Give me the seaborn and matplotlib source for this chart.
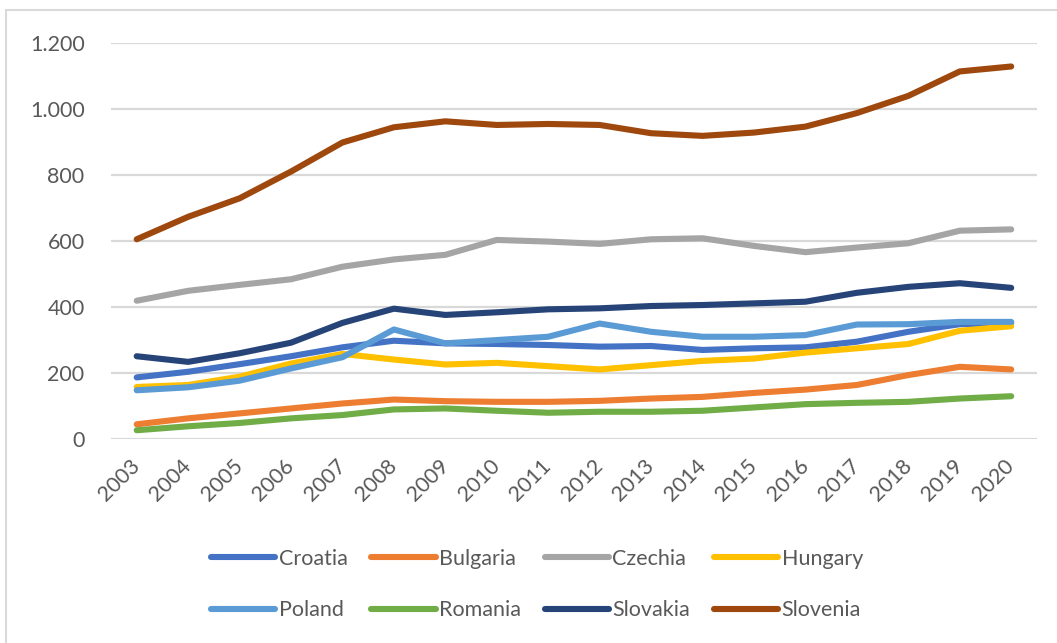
import matplotlib
matplotlib.use("Agg")
import matplotlib.pyplot as plt
import matplotlib.ticker as mticker
from matplotlib.lines import Line2D
import seaborn as sns
import pandas as pd

years = list(range(2003, 2021))

croatia  = [187, 204, 227, 251, 278, 298, 290, 288, 285, 280, 282, 270, 275, 278, 295, 325, 348, 352]
bulgaria = [45, 63, 78, 93, 108, 120, 115, 113, 113, 116, 123, 128, 140, 150, 164, 194, 219, 211]
czechia  = [419, 449, 467, 484, 522, 544, 558, 603, 598, 591, 605, 608, 585, 566, 580, 593, 631, 635]
hungary  = [158, 164, 189, 229, 258, 241, 226, 231, 221, 211, 224, 237, 244, 262, 275, 288, 328, 342]
poland   = [148, 157, 177, 214, 248, 332, 290, 300, 310, 350, 325, 310, 310, 315, 347, 348, 355, 355]
romania  = [27, 39, 49, 63, 73, 90, 93, 86, 80, 83, 83, 86, 96, 106, 110, 113, 123, 130]
slovakia = [251, 234, 260, 292, 352, 395, 376, 384, 393, 396, 403, 406, 411, 416, 443, 461, 472, 458]
slovenia = [605, 673, 729, 810, 898, 944, 962, 951, 954, 951, 926, 918, 928, 946, 987, 1039, 1113, 1128]

countries = ["Croatia", "Bulgaria", "Czechia", "Hungary", "Poland", "Romania", "Slovakia", "Slovenia"]
series = [croatia, bulgaria, czechia, hungary, poland, romania, slovakia, slovenia]
colors = ["#4472C4", "#ED7D31", "#A5A5A5", "#FFC000", "#5B9BD5", "#70AD47", "#264478", "#9E480E"]

rows = []
for name, vals in zip(countries, series):
    for i, (yr, v) in enumerate(zip(years, vals)):
        rows.append({"pos": i, "year": str(yr), "country": name, "value": v})
df = pd.DataFrame(rows)

sns.set_theme(style="white")
plt.rcParams["font.family"] = ["Lato", "DejaVu Sans"]

FS = 15.5
LW = 4.4

fig = plt.figure(figsize=(10.57, 6.43), dpi=100)
ax = fig.add_axes([0.105, 0.317, 0.876, 0.6166])

sns.lineplot(data=df, x="pos", y="value", hue="country", hue_order=countries,
             palette=dict(zip(countries, colors)), linewidth=LW, ax=ax,
             legend=False, solid_capstyle="round", solid_joinstyle="round")

ax.set_xlim(-0.5, len(years) - 0.5)
ax.set_ylim(0, 1200)
ax.yaxis.set_major_locator(mticker.MultipleLocator(200))
ax.yaxis.set_major_formatter(mticker.FuncFormatter(lambda v, _: f"{int(v):,}".replace(",", ".")))
ax.set_xticks(range(len(years)))
ax.set_xticklabels([str(y) for y in years], rotation=45, ha="right",
                   va="center", rotation_mode="anchor")
ax.tick_params(axis="x", length=0, pad=17, labelsize=FS, labelcolor="#595959")
ax.tick_params(axis="y", length=0, pad=19, labelsize=FS, labelcolor="#595959")
ax.grid(axis="y", color="#D9D9D9", linewidth=1.6)
ax.set_axisbelow(True)
for s in ax.spines.values():
    s.set_visible(False)
ax.set_xlabel("")
ax.set_ylabel("")

# legend: two rows of four, filled row by row
handles = [Line2D([], [], color=c, linewidth=LW, solid_capstyle="round") for c in colors]
order = [0, 4, 1, 5, 2, 6, 3, 7]
fig.legend([handles[i] for i in order], [countries[i] for i in order],
           ncol=4, loc="center", bbox_to_anchor=(0.508, 0.091), frameon=False,
           fontsize=FS, labelcolor="#595959", handlelength=3.0,
           handletextpad=0.15, columnspacing=1.1, labelspacing=1.45)

# thin outer frame on the left and top
fig.add_artist(Line2D([0.0057, 0.0057], [0, 0.985], transform=fig.transFigure,
                      color="#D9D9D9", linewidth=1.5))
fig.add_artist(Line2D([0.0057, 1.0], [0.985, 0.985], transform=fig.transFigure,
                      color="#D9D9D9", linewidth=1.5))

fig.savefig("out.png", dpi=100, facecolor="white")
